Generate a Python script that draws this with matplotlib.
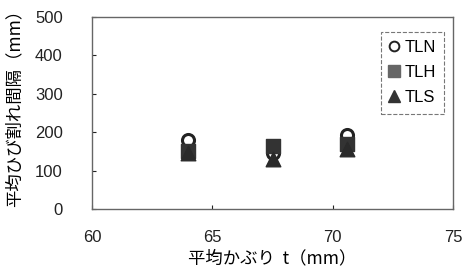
import matplotlib
matplotlib.use("Agg")
import matplotlib.pyplot as plt

plt.rcParams['font.family'] = ['Liberation Sans', 'Noto Sans CJK JP', 'DejaVu Sans']

# data
cover = [64.0, 67.5, 70.6]
tln = [180, 145, 192]
tlh = [150, 165, 170]
tls = [145, 130, 155]

fig = plt.figure(figsize=(4.63, 2.73), dpi=100)
ax = fig.add_axes([92 / 463, 1 - 209 / 273, 361 / 463, 192 / 273])

ax.scatter(cover, tlh, marker='s', s=110, color='#333333', zorder=3, label='TLH')
ax.scatter(cover, tls, marker='^', s=110, color='#2a2a2a', zorder=4, label='TLS')
ax.scatter(cover, tln, marker='o', s=75, facecolor='white', edgecolor='#222222',
           linewidth=2.2, zorder=2, label='TLN')

ax.set_xlim(60, 75)
ax.set_ylim(0, 500)
ax.set_xticks([60, 65, 70, 75])
ax.set_yticks([0, 100, 200, 300, 400, 500])
ax.tick_params(direction='in', length=3, labelsize=12, colors='#222222', pad=15)
ax.tick_params(axis='y', pad=21)
for s in ax.spines.values():
    s.set_color('#666666')
    s.set_linewidth(1.0)

ax.set_xlabel('平均かぶり  t（mm）', fontsize=12.5, family=['Noto Sans CJK JP'], labelpad=3)
ax.set_ylabel('平均ひび割れ間隔（mm）', fontsize=12.5, family=['Noto Sans CJK JP'], labelpad=2)
ax.yaxis.set_label_coords(-0.19, 0.55)

leg_handles = [
    plt.Line2D([], [], marker='o', ls='', ms=7, mfc='white', mec='#222222', mew=1.4),
    plt.Line2D([], [], marker='s', ls='', ms=8, color='#666666'),
    plt.Line2D([], [], marker='^', ls='', ms=9, color='#333333'),
]
leg = ax.legend(leg_handles, ['TLN', 'TLH', 'TLS'], loc='upper right',
                bbox_to_anchor=(0.975, 0.922), borderaxespad=0, fontsize=12,
                handlelength=0.6, handletextpad=0.3, labelspacing=0.6, borderpad=0.5,
                fancybox=False, framealpha=1, edgecolor='#777777')
leg.get_frame().set_linestyle('--')
leg.get_frame().set_linewidth(0.8)

fig.savefig('out.png', dpi=100)
